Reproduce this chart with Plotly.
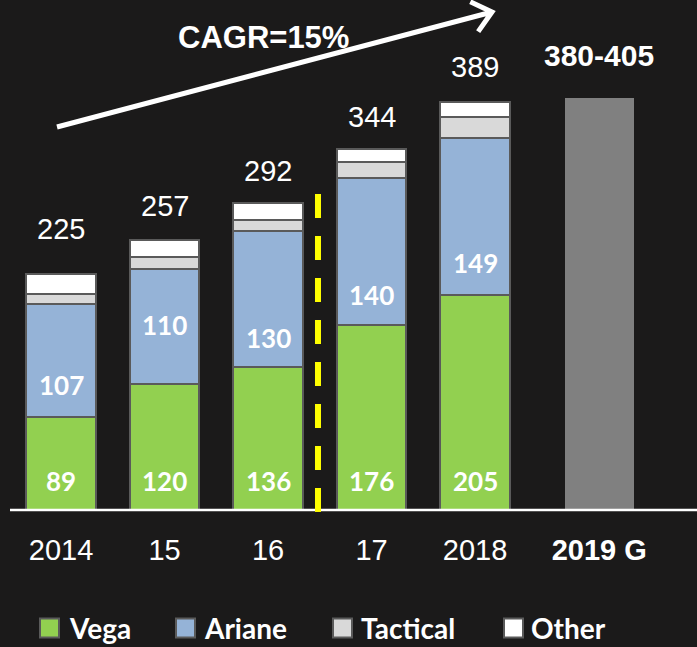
import numpy as np
import plotly.graph_objects as go

# ---------------- data ----------------
year_labels = ["2014", "15", "16", "17", "2018", "<b>2019 G</b>"]
vega = [89, 120, 136, 176, 205]
ariane = [107, 110, 130, 140, 149]
tactical = [10, 11, 10, 15, 20]
other = [19, 16, 16, 13, 15]
totals = [225, 257, 292, 344, 389]
guidance_low, guidance_high = 380, 405
cagr_text = "CAGR=15%"

# ---------------- styling / layout helpers ----------------
W, H = 697, 647
BG = "#1b1a1a"
x_pos = [0, 1, 2, 3, 4]
guid_x = 5.2
x_all = x_pos + [guid_x]
bar_w = 0.667
px_per_unit = 1.05
plot_bottom_px = 517          # bottom of plotting area in pixels
base_px = 510                 # pixel of value 0
y_min = -(plot_bottom_px - base_px) / px_per_unit
y_max = base_px / px_per_unit
x_min = -61 / 103.5
x_max = (W - 61) / 103.5

total_offsets = [43, 33, 31, 30, 33]
ariane_label_offsets = [30, 56, 28, 29, 30]
vega_label_y = 28

fig = go.Figure()
outline = dict(color="#5a5a5a", width=2)
series = [("Vega", vega, "#92D050"), ("Ariane", ariane, "#95B3D7"),
          ("Tactical", tactical, "#D9D9D9"), ("Other", other, "#FFFFFF")]
for name, vals, col in series:
    fig.add_trace(go.Bar(x=x_pos, y=vals, name=name, width=bar_w,
                         marker=dict(color=col, line=outline),
                         showlegend=False, hoverinfo="name+y"))
fig.add_trace(go.Bar(x=[guid_x], y=[(guidance_low + guidance_high) / 2],
                     name="2019 G", width=bar_w,
                     marker=dict(color="#808080", line=dict(width=0)),
                     showlegend=False))

annotations = []
arial = "Liberation Sans, Arial, sans-serif"
calib = "Lato, Open Sans, sans-serif"
for i, x in enumerate(x_pos):
    annotations.append(dict(x=x, y=totals[i] + total_offsets[i], text=str(totals[i]),
                            showarrow=False, font=dict(family=arial, size=29, color="white"),
                            xref="x", yref="y"))
    annotations.append(dict(x=x, y=vega_label_y, text="<b>%d</b>" % vega[i],
                            showarrow=False, font=dict(family=calib, size=26, color="white"),
                            xref="x", yref="y"))
    annotations.append(dict(x=x, y=vega[i] + ariane_label_offsets[i], text="<b>%d</b>" % ariane[i],
                            showarrow=False, font=dict(family=calib, size=26, color="white"),
                            xref="x", yref="y"))
annotations.append(dict(x=guid_x, y=(guidance_low + guidance_high) / 2 + 40,
                        text="<b>%d-%d</b>" % (guidance_low, guidance_high),
                        showarrow=False, font=dict(family=arial, size=30, color="white"),
                        xref="x", yref="y"))


def px_to_paper(px, py):
    return px / W, (plot_bottom_px - py) / plot_bottom_px


# CAGR text
cx, cy = px_to_paper(263, 37)
annotations.append(dict(x=cx, y=cy, xref="paper", yref="paper", xanchor="center",
                        yanchor="middle", text="<b>%s</b>" % cagr_text,
                        showarrow=False, font=dict(family=arial, size=31, color="white")))

# manual legend
leg_sq_x = [40, 176, 333, 504]
leg_txt_x = [67, 202, 359, 529]
leg_y = 628
shapes = []
for (name, _, col), sx, tx in zip(series, leg_sq_x, leg_txt_x):
    x0, y0 = px_to_paper(sx, leg_y + 9.5)
    x1, y1 = px_to_paper(sx + 19, leg_y - 9.5)
    shapes.append(dict(type="rect", xref="paper", yref="paper", x0=x0, y0=y0, x1=x1, y1=y1,
                       fillcolor=col, line=dict(color="#5a5a5a", width=2)))
    ax, ay = px_to_paper(tx, leg_y)
    annotations.append(dict(x=ax, y=ay, xref="paper", yref="paper", xanchor="left",
                            yanchor="middle", text="<b>%s</b>" % name, showarrow=False,
                            font=dict(family=calib, size=28, color="white")))

# baseline
shapes.append(dict(type="line", xref="paper", yref="y", x0=10 / W, x1=1, y0=0, y1=0,
                   line=dict(color="white", width=2.5), layer="above"))

# yellow dashed separator
shapes.append(dict(type="line", xref="x", yref="y", x0=2.483, x1=2.483, y0=301, y1=y_min,
                   line=dict(color="#FFFF00", width=6, dash="24px,18px")))

# arrow
tail = np.array([57.0, 127.0])
tip = np.array([492.0, 12.0])
d = (tail - tip) / np.linalg.norm(tail - tip)
arms = []
for ang in (40, -40):
    t = np.radians(ang)
    rot = np.array([d[0] * np.cos(t) - d[1] * np.sin(t), d[0] * np.sin(t) + d[1] * np.cos(t)])
    arms.append(tip + 24 * rot)
pts = [px_to_paper(*p) for p in (tail, tip, arms[0], arms[1])]
path = "M %f,%f L %f,%f M %f,%f L %f,%f L %f,%f" % (
    pts[0][0], pts[0][1], pts[1][0], pts[1][1],
    pts[2][0], pts[2][1], pts[1][0], pts[1][1], pts[3][0], pts[3][1])
shapes.append(dict(type="path", xref="paper", yref="paper", path=path,
                   line=dict(color="white", width=5)))

fig.update_layout(
    width=W, height=H, barmode="stack", bargap=0,
    paper_bgcolor=BG, plot_bgcolor=BG,
    margin=dict(l=0, r=0, t=0, b=H - plot_bottom_px, pad=0),
    showlegend=False,
    xaxis=dict(range=[x_min, x_max], tickvals=x_all, ticktext=year_labels,
               showgrid=False, zeroline=False, showline=False, ticks="",
               tickfont=dict(family=arial, size=29, color="white"),
               ticklabelstandoff=13, fixedrange=True),
    yaxis=dict(range=[y_min, y_max], visible=False, showgrid=False, zeroline=False,
               fixedrange=True),
    annotations=annotations, shapes=shapes,
)

fig.write_html("out.html", config={"displayModeBar": False},
               post_script="document.body.style.margin='0';document.body.style.background='%s';" % BG)
